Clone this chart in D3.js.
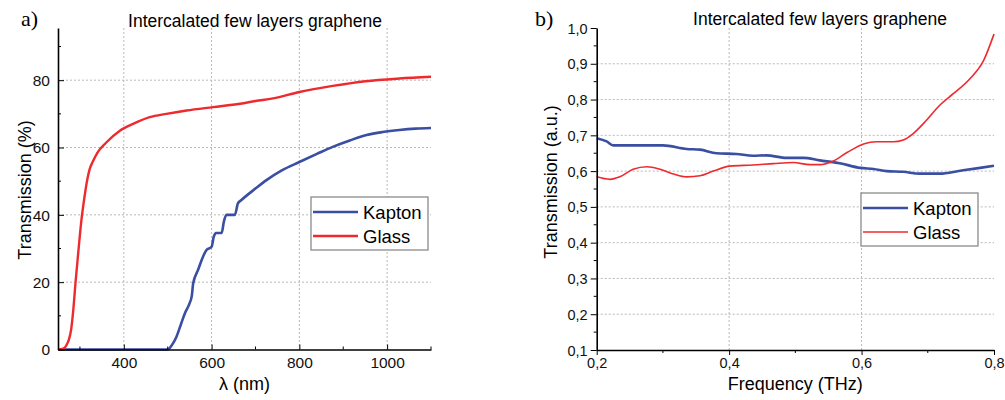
<!DOCTYPE html>
<html>
<head>
<meta charset="utf-8">
<script src="https://cdn.jsdelivr.net/npm/d3@7"></script>
<style>
  body { margin: 0; background: #fff; }
  svg { font-family: "Liberation Sans", Arial, sans-serif; }
</style>
</head>
<body>
<div id="chart"></div>
<script>
// panel a) : transmission vs wavelength
var kaptonA_lambda = [250, 500, 505, 512, 520, 531, 539, 550, 555, 558, 569, 588, 600, 605, 610, 623, 628, 634, 653, 660, 668, 700, 725, 760, 800, 840, 876, 915, 953, 990, 1028, 1065, 1100];
var kaptonA_T = [0, 0, 0.5, 1.8, 3.8, 7.8, 10.7, 13.8, 16, 19.6, 23.6, 29.5, 30.5, 33.5, 34.6, 34.6, 38, 40, 40, 43.4, 44.4, 47.8, 50.3, 53.2, 55.7, 58.1, 60.2, 62.1, 63.7, 64.6, 65.2, 65.6, 65.8];
var glassA_lambda = [250, 260, 265, 270, 275, 280, 285, 290, 297, 303, 310, 316, 322, 330, 340, 360, 391, 421, 459, 497, 543, 603, 665, 700, 740, 800, 876, 951, 1028, 1100];
var glassA_T = [0, 0.2, 0.5, 1.5, 3, 6, 12, 20, 30, 38, 45, 50, 53.5, 56, 58.5, 61.5, 65, 67, 69, 70, 71, 72, 73, 73.8, 74.6, 76.5, 78.3, 79.7, 80.5, 81];

// panel b) : transmission vs frequency
var kaptonB_f = [0.2, 0.215, 0.225, 0.26, 0.3, 0.336, 0.356, 0.381, 0.411, 0.436, 0.456, 0.487, 0.512, 0.537, 0.567, 0.598, 0.618, 0.638, 0.663, 0.688, 0.718, 0.749, 0.779, 0.8];
var kaptonB_T = [0.692, 0.683, 0.672, 0.672, 0.672, 0.662, 0.66, 0.65, 0.648, 0.643, 0.644, 0.637, 0.637, 0.63, 0.622, 0.609, 0.606, 0.6, 0.598, 0.593, 0.593, 0.601, 0.609, 0.615];
var glassB_f = [0.2, 0.22, 0.235, 0.255, 0.276, 0.296, 0.316, 0.336, 0.356, 0.376, 0.401, 0.436, 0.467, 0.497, 0.522, 0.537, 0.555, 0.578, 0.603, 0.623, 0.648, 0.663, 0.678, 0.698, 0.718, 0.739, 0.764, 0.784, 0.8];
var glassB_T = [0.584, 0.577, 0.584, 0.605, 0.612, 0.605, 0.592, 0.584, 0.587, 0.6, 0.614, 0.617, 0.621, 0.624, 0.618, 0.618, 0.626, 0.652, 0.676, 0.682, 0.682, 0.687, 0.705, 0.742, 0.784, 0.817, 0.859, 0.908, 0.983];

var xTicksA = [400, 600, 800, 1000], xMinorA = [300, 500, 700, 900, 1100];
var yTicksA = [0, 20, 40, 60, 80], yMinorA = [10, 30, 50, 70, 90];
var xTicksB = [0.2, 0.4, 0.6, 0.8], xMinorB = [0.3, 0.5, 0.7];
var yTicksB = [0.1, 0.2, 0.3, 0.4, 0.5, 0.6, 0.7, 0.8, 0.9, 1.0];
var yMinorB = [0.15, 0.25, 0.35, 0.45, 0.55, 0.65, 0.75, 0.85, 0.95];

var series = ["Kapton", "Glass"];
var colors = { Kapton: "#3a4ea2", Glass: "#ee2a2e" };

var svg = d3.select("#chart").append("svg")
    .attr("width", 1005)
    .attr("height", 400);

var zip = (xs, ys) => xs.map((x, i) => [x, ys[i]]);
var comma = d => d3.format(".1f")(d).replace(".", ",");

function panel(o) {
    var g = svg.append("g");
    var x = d3.scaleLinear().domain(o.xDomain).range([o.left, o.right]);
    var y = d3.scaleLinear().domain(o.yDomain).range([o.bottom, o.top]);

    // dotted grid
    g.append("g").selectAll("line").data(o.yGrid).enter().append("line")
        .attr("x1", o.left).attr("x2", o.right)
        .attr("y1", d => y(d)).attr("y2", d => y(d))
        .attr("stroke", "#b8b8b8").attr("stroke-dasharray", "2,2");
    g.append("g").selectAll("line").data(o.xGrid).enter().append("line")
        .attr("y1", o.top).attr("y2", o.bottom)
        .attr("x1", d => x(d)).attr("x2", d => x(d))
        .attr("stroke", "#b8b8b8").attr("stroke-dasharray", "2,2");

    // curves
    var line = d3.line().x(d => x(d[0])).y(d => y(d[1])).curve(d3.curveMonotoneX);
    o.data.forEach(s => {
        g.append("path")
            .attr("d", line(s.values))
            .attr("fill", "none")
            .attr("stroke", colors[s.name])
            .attr("stroke-width", s.width)
            .attr("stroke-linejoin", "round");
    });

    // axes
    var sign = o.inward ? -1 : 1;
    var xAxis = g.append("g").attr("transform", `translate(0,${o.bottom})`)
        .call(d3.axisBottom(x).tickValues(o.xTicks).tickFormat(o.fmt)
            .tickSize(sign * 5).tickPadding(o.inward ? 7 : 3).tickSizeOuter(0));
    xAxis.append("g").selectAll("line").data(o.xMinor).enter().append("line")
        .attr("x1", d => x(d)).attr("x2", d => x(d))
        .attr("y1", 0).attr("y2", sign * 3).attr("stroke", "#000");
    var yAxis = g.append("g").attr("transform", `translate(${o.left},0)`)
        .call(d3.axisLeft(y).tickValues(o.yTicks).tickFormat(o.fmt)
            .tickSize(sign * 6).tickPadding(o.inward ? 8 : 3).tickSizeOuter(0));
    yAxis.append("g").selectAll("line").data(o.yMinor).enter().append("line")
        .attr("y1", d => y(d)).attr("y2", d => y(d))
        .attr("x1", 0).attr("x2", -sign * 3).attr("stroke", "#000");
    [xAxis, yAxis].forEach(a => {
        a.select(".domain").attr("stroke-width", 1.6);
        a.selectAll("text").style("font-size", o.tickFont + "px").attr("fill", "#111")
            .style("font-family", "'Liberation Sans', Arial, sans-serif");
    });
    yAxis.selectAll(".tick text").attr("dy", "0.35em");

    // titles and labels
    g.append("text").attr("x", o.titleX).attr("y", o.titleY)
        .attr("text-anchor", "middle").style("font-size", "17.5px")
        .text("Intercalated few layers graphene");
    g.append("text").attr("x", o.tagX).attr("y", 26)
        .style("font-family", "'Liberation Serif', 'Times New Roman', serif")
        .style("font-size", "22px").text(o.tag);
    g.append("text").attr("x", (o.left + o.right) / 2).attr("y", 390)
        .attr("text-anchor", "middle").style("font-size", "18px").text(o.xLabel);
    g.append("text")
        .attr("transform", `translate(${o.yLabelX},${o.yLabelY}) rotate(-90)`)
        .attr("text-anchor", "middle").style("font-size", "18px").text(o.yLabel);

    // legend
    var lg = g.append("g").attr("transform", `translate(${o.legend[0]},${o.legend[1]})`);
    lg.append("rect").attr("width", 117).attr("height", 53)
        .attr("fill", "#fff").attr("stroke", "#8a8a8a").attr("stroke-width", 1.3);
    series.forEach((s, i) => {
        var ly = 15 + i * 24;
        lg.append("line").attr("x1", 2).attr("x2", 47).attr("y1", ly).attr("y2", ly)
            .attr("stroke", colors[s]).attr("stroke-width", o.data[i].width);
        lg.append("text").attr("x", 52).attr("y", ly).attr("dy", "0.36em")
            .style("font-size", "18.5px").text(s);
    });
}

panel({
    xDomain: [250, 1100], yDomain: [0, 95.5],
    left: 58, right: 431, top: 28, bottom: 349.5,
    xTicks: xTicksA, xMinor: xMinorA, yTicks: yTicksA, yMinor: yMinorA,
    xGrid: xTicksA, yGrid: [20, 40, 60, 80],
    fmt: d3.format("d"), tickFont: 15.5, inward: true,
    data: [
        { name: "Kapton", values: zip(kaptonA_lambda, kaptonA_T), width: 2.6 },
        { name: "Glass", values: zip(glassA_lambda, glassA_T), width: 2.4 }
    ],
    titleX: 255, titleY: 27, tag: "a)", tagX: 21,
    xLabel: "\u03bb (nm)", yLabel: "Transmission (%)", yLabelX: 31, yLabelY: 190,
    legend: [311, 197]
});

panel({
    xDomain: [0.2, 0.8], yDomain: [0.1, 1.0],
    left: 596.7, right: 994, top: 28, bottom: 350,
    xTicks: xTicksB, xMinor: xMinorB, yTicks: yTicksB, yMinor: yMinorB,
    xGrid: [0.4, 0.6], yGrid: [0.2, 0.3, 0.4, 0.5, 0.6, 0.7, 0.8, 0.9],
    fmt: comma, tickFont: 14.5, inward: false,
    data: [
        { name: "Kapton", values: zip(kaptonB_f, kaptonB_T), width: 2.6 },
        { name: "Glass", values: zip(glassB_f, glassB_T), width: 1.6 }
    ],
    titleX: 820, titleY: 25, tag: "b)", tagX: 535,
    xLabel: "Frequency (THz)", yLabel: "Transmission (a.u.)", yLabelX: 557, yLabelY: 182,
    legend: [861, 193]
});
</script>
</body>
</html>
